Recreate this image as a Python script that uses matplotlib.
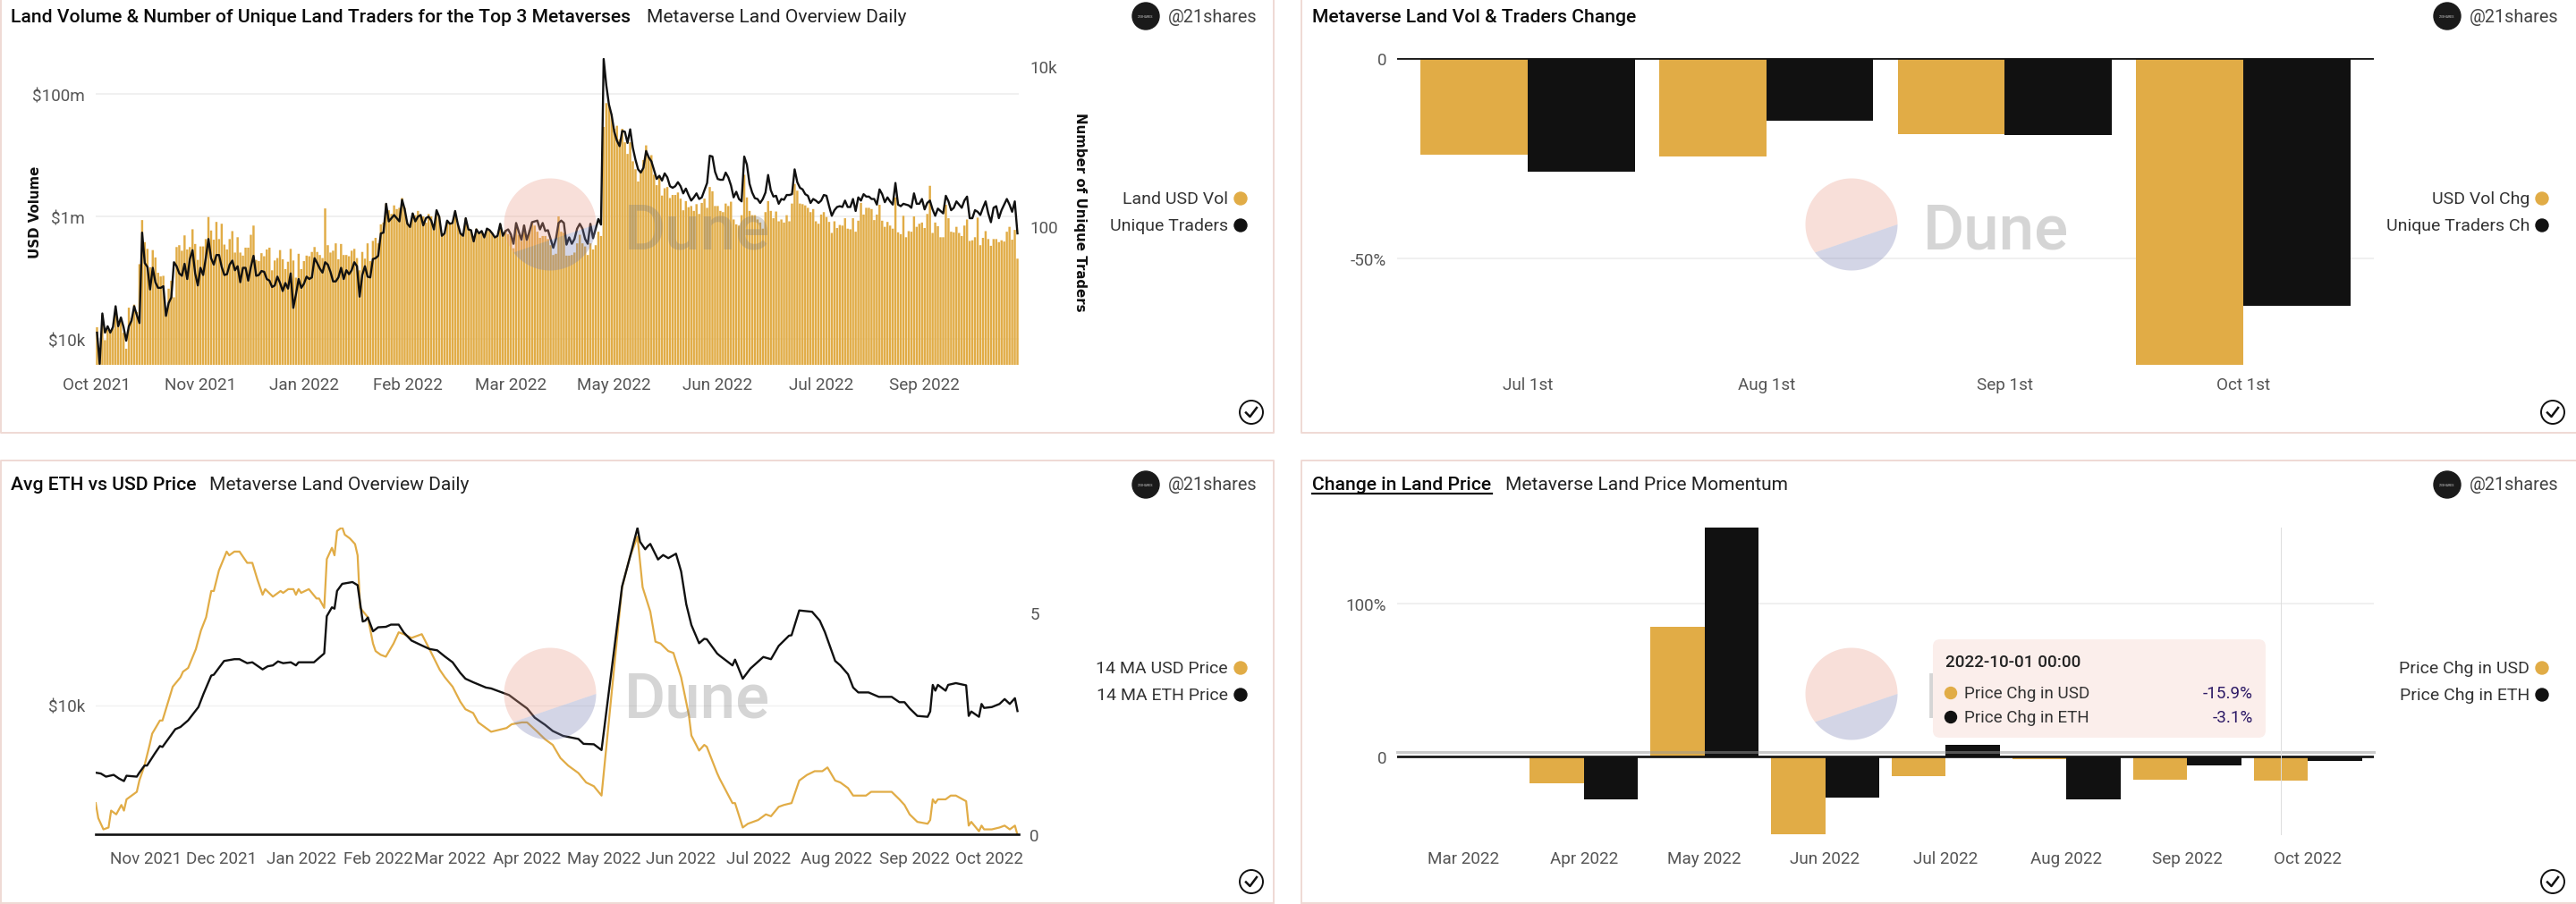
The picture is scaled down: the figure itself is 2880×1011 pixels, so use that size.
#!/usr/bin/env python3
"""Four panel metaverse land dashboard (Dune style), saved as out.png."""
import numpy as np
import matplotlib

matplotlib.use("Agg")
import matplotlib.pyplot as plt
from matplotlib.lines import Line2D
from matplotlib.patches import Circle, FancyBboxPatch, Polygon
from matplotlib.transforms import ScaledTranslation

W, H = 2880, 1012
GOLD = "#e1ac46"
BLACK = "#111111"
TICK = "#555555"
FONT = "Roboto"

# panel 1, daily, log10 of land USD volume
land_vol_log = [
    4.19, 3.85, 4.39, 3.98, 4.15, 4.10, 4.17, 4.44, 4.20, 4.34, 4.10, 3.84, 4.51, 4.34, 4.56, 4.44,
    5.22, 5.94, 5.58, 5.47, 5.17, 5.45, 5.33, 5.08, 5.02, 5.03, 4.49, 4.82, 4.95, 4.68, 5.50, 5.53,
    5.44, 5.69, 5.46, 5.50, 5.79, 5.55, 5.29, 5.51, 5.51, 5.63, 5.99, 5.77, 5.62, 5.91, 5.63, 5.88,
    5.54, 5.46, 5.63, 5.76, 5.41, 5.66, 5.41, 5.36, 5.49, 5.49, 5.70, 5.85, 5.29, 5.27, 5.40, 5.35,
    5.46, 5.49, 5.12, 5.28, 5.32, 5.45, 5.30, 5.14, 5.26, 5.47, 5.28, 5.00, 5.39, 5.14, 5.27, 5.36,
    5.35, 5.42, 5.50, 5.42, 5.37, 5.32, 6.13, 5.53, 5.41, 5.44, 5.56, 5.30, 5.55, 5.37, 5.37, 5.35,
    5.44, 5.47, 5.32, 5.12, 5.42, 5.31, 5.56, 5.27, 5.60, 5.65, 5.56, 5.87, 5.90, 6.21, 6.10, 6.04,
    6.18, 6.12, 6.14, 6.30, 6.14, 5.90, 5.85, 6.05, 6.02, 6.09, 6.00, 6.00, 5.90, 6.04, 6.00, 5.80,
    6.09, 6.00, 5.68, 5.73, 5.92, 5.87, 5.90, 6.07, 5.87, 5.73, 5.68, 5.97, 5.79, 5.78, 5.61, 5.80,
    5.73, 5.76, 5.65, 5.80, 5.78, 5.73, 5.65, 5.68, 5.87, 5.68, 5.78, 5.71, 5.68, 5.48, 5.87, 5.70,
    5.60, 5.85, 5.65, 5.78, 5.90, 5.85, 5.75, 5.65, 5.68, 5.68, 5.63, 5.53, 5.37, 5.39, 6.00, 5.75,
    5.73, 5.36, 5.36, 5.37, 5.41, 5.56, 5.70, 5.56, 5.51, 5.37, 5.56, 5.46, 5.53, 5.75, 5.68, 7.46,
    7.85, 7.82, 7.67, 7.43, 7.48, 7.26, 7.43, 7.21, 7.02, 7.21, 6.90, 6.77, 6.57, 6.73, 6.92, 7.16,
    6.97, 7.00, 6.68, 6.51, 6.63, 6.34, 6.46, 6.48, 6.30, 6.35, 6.35, 6.39, 6.29, 6.10, 6.25, 6.15,
    6.17, 6.09, 6.20, 6.04, 6.22, 6.29, 6.14, 6.48, 6.41, 6.17, 6.17, 6.09, 6.07, 6.21, 6.17, 6.24,
    5.95, 5.87, 5.85, 6.02, 6.68, 6.31, 6.09, 6.02, 6.02, 5.95, 5.90, 5.80, 6.07, 6.25, 6.09, 5.97,
    6.08, 5.92, 5.95, 5.90, 6.02, 5.92, 6.21, 6.53, 6.42, 6.21, 6.20, 6.18, 6.14, 6.07, 6.12, 5.92,
    5.88, 6.03, 6.07, 5.99, 5.91, 5.73, 5.92, 5.81, 5.86, 5.85, 5.97, 5.80, 5.79, 5.97, 5.75, 5.93,
    6.22, 6.03, 6.14, 6.14, 6.12, 5.94, 6.03, 6.19, 5.93, 5.83, 5.91, 5.85, 5.80, 6.31, 5.74, 5.71,
    6.01, 5.66, 5.76, 5.75, 6.00, 5.83, 5.88, 5.90, 5.81, 6.04, 6.50, 5.73, 5.90, 5.84, 5.66, 5.66,
    6.19, 5.97, 5.75, 5.74, 5.83, 5.73, 5.68, 5.85, 5.95, 5.60, 5.61, 5.66, 5.98, 5.53, 5.65, 5.76,
    5.63, 5.52, 5.63, 5.63, 5.58, 5.61, 5.59, 5.75, 5.83, 5.62, 5.78, 5.31,
]
# panel 1, daily, log10 of unique traders
traders_log = [
    0.67, 0.28, 0.91, 0.67, 0.75, 0.67, 0.74, 1.00, 0.75, 0.86, 0.74, 0.57, 0.75, 0.82, 1.00, 0.89,
    0.79, 1.92, 1.54, 1.49, 1.21, 1.48, 1.30, 1.23, 1.23, 1.25, 0.88, 1.04, 1.11, 1.55, 1.50, 1.41,
    1.38, 1.53, 1.34, 1.59, 1.70, 1.41, 1.26, 1.48, 1.39, 1.60, 1.84, 1.60, 1.52, 1.64, 1.64, 1.49,
    1.39, 1.40, 1.52, 1.57, 1.45, 1.50, 1.30, 1.48, 1.48, 1.32, 1.49, 1.63, 1.38, 1.39, 1.44, 1.43,
    1.34, 1.32, 1.24, 1.26, 1.37, 1.29, 1.19, 1.29, 1.22, 1.41, 0.98, 1.15, 1.34, 1.23, 1.28, 1.37,
    1.34, 1.36, 1.60, 1.54, 1.47, 1.42, 1.55, 1.52, 1.43, 1.31, 1.31, 1.36, 1.48, 1.34, 1.45, 1.40,
    1.45, 1.55, 1.50, 1.12, 1.39, 1.50, 1.37, 1.36, 1.59, 1.60, 1.63, 1.91, 1.92, 2.28, 2.06, 2.10,
    2.14, 2.10, 2.06, 2.33, 2.21, 2.03, 1.99, 2.16, 2.06, 2.12, 2.14, 2.01, 2.10, 2.12, 2.07, 1.96,
    2.20, 2.12, 1.88, 1.91, 2.07, 2.03, 2.04, 2.19, 2.03, 1.91, 1.88, 2.10, 1.96, 1.95, 1.81, 1.96,
    1.91, 1.94, 1.86, 1.97, 1.95, 1.91, 1.86, 1.88, 2.03, 1.88, 1.94, 1.96, 1.90, 1.78, 2.04, 1.93,
    1.83, 2.01, 1.83, 1.93, 2.05, 2.06, 2.07, 1.96, 2.04, 1.94, 1.95, 1.84, 1.73, 1.84, 2.04, 2.07,
    2.04, 1.77, 1.86, 1.78, 1.84, 1.97, 2.03, 1.97, 1.84, 1.78, 2.03, 1.85, 1.97, 2.09, 2.02, 4.09,
    3.76, 3.52, 3.39, 3.18, 3.07, 3.00, 3.19, 3.18, 3.04, 3.21, 2.98, 2.83, 2.71, 2.67, 2.73, 2.94,
    2.86, 2.81, 2.70, 2.59, 2.63, 2.57, 2.66, 2.61, 2.50, 2.48, 2.50, 2.55, 2.50, 2.41, 2.47, 2.39,
    2.32, 2.36, 2.41, 2.34, 2.36, 2.45, 2.54, 2.88, 2.87, 2.68, 2.59, 2.58, 2.58, 2.67, 2.61, 2.51,
    2.36, 2.43, 2.34, 2.31, 2.87, 2.77, 2.53, 2.42, 2.35, 2.34, 2.29, 2.34, 2.42, 2.64, 2.45, 2.37,
    2.38, 2.28, 2.34, 2.33, 2.39, 2.39, 2.40, 2.71, 2.55, 2.48, 2.46, 2.40, 2.38, 2.29, 2.34, 2.32,
    2.29, 2.32, 2.39, 2.38, 2.25, 2.13, 2.20, 2.24, 2.25, 2.24, 2.32, 2.24, 2.24, 2.34, 2.19, 2.36,
    2.32, 2.40, 2.37, 2.37, 2.34, 2.34, 2.27, 2.46, 2.40, 2.30, 2.36, 2.31, 2.27, 2.54, 2.27, 2.25,
    2.28, 2.27, 2.26, 2.23, 2.41, 2.28, 2.28, 2.34, 2.21, 2.29, 2.32, 2.21, 2.13, 2.22, 2.19, 2.16,
    2.38, 2.31, 2.20, 2.23, 2.31, 2.27, 2.23, 2.32, 2.37, 2.10, 2.10, 2.20, 2.18, 2.14, 2.23, 2.31,
    2.16, 2.05, 2.23, 2.25, 2.10, 2.20, 2.27, 2.34, 2.27, 2.18, 2.31, 1.91,
]
vol_tick_days = [0, 39, 78, 117, 156, 195, 234, 273, 312]
vol_tick_labels = ["Oct 2021", "Nov 2021", "Jan 2022", "Feb 2022", "Mar 2022",
                   "May 2022", "Jun 2022", "Jul 2022", "Sep 2022"]

# panel 2
change_months = ["Jul 1st", "Aug 1st", "Sep 1st", "Oct 1st"]
usd_vol_chg = [-24.1, -24.5, -18.9, -76.4]
traders_chg = [-28.2, -15.7, -19.1, -61.7]

# panel 3, days since the first point, log10 of USD price
usd_days = [
    0, 1, 3, 5, 6, 8, 10, 11, 12, 14, 16, 17, 19, 21, 22, 25, 26, 28, 30, 33, 34, 36, 39, 41, 43,
    45, 46, 48, 51, 52, 54, 56, 59, 61, 63, 65, 66, 69, 72, 73, 75, 77, 78, 79, 80, 83, 86, 87, 89,
    90, 92, 93, 94, 96, 97, 99, 101, 102, 103, 106, 108, 109, 111, 113, 116, 118, 120, 123, 127,
    130, 134, 136, 139, 142, 144, 147, 149, 152, 154, 160, 162, 166, 168, 172, 175, 178, 181, 184,
    188, 191, 194, 197, 205, 208, 211, 213, 216, 218, 220, 223, 225, 228, 231, 232, 235, 237, 238,
    242, 243, 248, 249, 252, 254, 258, 261, 263, 266, 268, 271, 274, 277, 280, 283, 285, 288, 290,
    293, 295, 297, 300, 302, 306, 310, 313, 315, 317, 320, 324, 325, 326, 327, 328, 331, 333, 335,
    339, 340, 341, 344, 345, 346, 349, 352, 354, 356, 358, 359,
]
usd_price_log = [
    3.48, 3.40, 3.34, 3.35, 3.44, 3.42, 3.47, 3.44, 3.50, 3.52, 3.54, 3.60, 3.68, 3.79, 3.85, 3.92,
    3.92, 4.01, 4.10, 4.15, 4.18, 4.20, 4.30, 4.40, 4.47, 4.61, 4.61, 4.72, 4.82, 4.80, 4.82, 4.82,
    4.76, 4.76, 4.67, 4.59, 4.62, 4.58, 4.61, 4.60, 4.62, 4.62, 4.59, 4.62, 4.60, 4.62, 4.57, 4.57,
    4.52, 4.78, 4.84, 4.80, 4.93, 4.95, 4.91, 4.89, 4.86, 4.80, 4.52, 4.47, 4.33, 4.29, 4.27, 4.26,
    4.33, 4.39, 4.38, 4.36, 4.38, 4.30, 4.19, 4.15, 4.10, 4.02, 3.98, 3.96, 3.91, 3.88, 3.86, 3.88,
    3.90, 3.91, 3.91, 3.86, 3.82, 3.79, 3.72, 3.68, 3.64, 3.59, 3.57, 3.52, 4.63, 4.79, 4.90, 4.63,
    4.50, 4.34, 4.33, 4.29, 4.28, 4.15, 3.95, 3.84, 3.76, 3.79, 3.78, 3.64, 3.61, 3.48, 3.48, 3.35,
    3.37, 3.39, 3.42, 3.41, 3.46, 3.47, 3.48, 3.60, 3.63, 3.65, 3.65, 3.67, 3.60, 3.59, 3.56, 3.52,
    3.52, 3.52, 3.54, 3.54, 3.54, 3.50, 3.47, 3.42, 3.38, 3.37, 3.39, 3.50, 3.48, 3.50, 3.50, 3.52,
    3.52, 3.49, 3.36, 3.38, 3.33, 3.36, 3.34, 3.34, 3.35, 3.36, 3.34, 3.36, 3.31,
]
eth_days = [
    0, 2, 4, 7, 9, 11, 12, 16, 17, 19, 20, 23, 25, 26, 31, 33, 36, 40, 42, 45, 46, 50, 54, 56, 59,
    61, 65, 67, 69, 71, 73, 76, 78, 79, 85, 89, 90, 92, 93, 94, 96, 100, 102, 104, 105, 106, 108,
    110, 113, 115, 118, 120, 123, 127, 130, 133, 136, 139, 142, 144, 147, 152, 154, 161, 164, 168,
    171, 175, 178, 182, 188, 190, 194, 197, 205, 208, 211, 212, 214, 215, 216, 219, 221, 223, 226,
    228, 230, 232, 235, 237, 238, 242, 243, 248, 249, 252, 255, 260, 263, 266, 270, 271, 274, 279,
    282, 284, 288, 290, 293, 295, 297, 301, 305, 310, 313, 315, 317, 320, 324, 325, 326, 327, 328,
    331, 332, 335, 339, 340, 341, 344, 345, 346, 349, 352, 354, 356, 358, 359,
]
eth_price = [
    1.39, 1.37, 1.30, 1.34, 1.26, 1.20, 1.32, 1.30, 1.39, 1.55, 1.55, 1.82, 1.99, 1.97, 2.37, 2.42,
    2.57, 2.87, 3.17, 3.58, 3.60, 3.91, 3.95, 3.95, 3.86, 3.88, 3.72, 3.79, 3.81, 3.90, 3.86, 3.88,
    3.81, 3.88, 3.88, 4.08, 4.92, 5.12, 5.09, 5.49, 5.65, 5.69, 5.62, 4.80, 4.82, 4.89, 4.58, 4.67,
    4.68, 4.73, 4.73, 4.55, 4.37, 4.26, 4.18, 4.15, 4.01, 3.88, 3.64, 3.51, 3.43, 3.31, 3.29, 3.14,
    3.01, 2.84, 2.63, 2.47, 2.33, 2.22, 2.15, 2.04, 2.03, 1.90, 5.59, 6.24, 6.91, 6.60, 6.43, 6.50,
    6.55, 6.20, 6.30, 6.23, 6.33, 5.93, 5.19, 4.72, 4.31, 4.41, 4.40, 4.08, 4.03, 3.81, 3.94, 3.51,
    3.74, 4.00, 3.95, 4.25, 4.48, 4.49, 5.05, 5.02, 4.82, 4.56, 3.91, 3.81, 3.61, 3.31, 3.20, 3.20,
    3.10, 3.10, 2.98, 2.98, 2.84, 2.67, 2.65, 2.77, 3.37, 3.24, 3.37, 3.24, 3.37, 3.41, 3.36, 2.67,
    2.77, 2.65, 2.94, 2.85, 2.87, 2.94, 3.05, 2.94, 3.07, 2.78,
]
price_tick_days = [19.5, 49, 80, 110, 138, 168, 198, 228, 258, 288.5, 319, 348]
price_tick_labels = ["Nov 2021", "Dec 2021", "Jan 2022", "Feb 2022", "Mar 2022", "Apr 2022",
                     "May 2022", "Jun 2022", "Jul 2022", "Aug 2022", "Sep 2022", "Oct 2022"]

# panel 4
price_months = ["Mar 2022", "Apr 2022", "May 2022", "Jun 2022",
                "Jul 2022", "Aug 2022", "Sep 2022", "Oct 2022"]
price_chg_usd = [0, -17.3, 84.8, -50.9, -12.9, -1.8, -15.0, -15.9]
price_chg_eth = [0, -28.1, 149.7, -26.7, 7.6, -28.1, -5.8, -3.1]


def px_axes(fig, left, top, right, bottom):
    return fig.add_axes([left / W, 1 - bottom / H, (right - left) / W, (bottom - top) / H])


def style_axes(ax, lift=2.5):
    for side in ax.spines:
        ax.spines[side].set_visible(False)
    ax.tick_params(length=0, labelsize=13.6, labelcolor=TICK, pad=0)
    for lbl in ax.get_yticklabels():
        lbl.set_transform(lbl.get_transform() + ScaledTranslation(0, lift / 72, ax.figure.dpi_scale_trans))
    ax.set_axisbelow(True)


def grouped_bars(ax, first, second, labels):
    x = np.arange(len(labels))
    ax.bar(x - 0.2245, first, width=0.449, color=GOLD, zorder=2)
    ax.bar(x + 0.2245, second, width=0.449, color=BLACK, zorder=2)
    ax.axhline(0, color=BLACK, lw=1.9, zorder=3)
    ax.set_xticks(x, labels)
    ax.grid(axis="y", color="#eeeeee", lw=1.2)
    ax.set_xlim(-0.548, len(labels) - 1 + 0.548)


def header(ov, x, y, title, sub=None, sub_x=None, avatar_x=1281):
    ov.text(x, y, title, fontsize=15.2, fontweight="medium", color="#0c0c0c", va="center")
    if sub:
        ov.text(sub_x, y, sub, fontsize=15.1, color="#222222", va="center")
    ov.add_patch(Circle((avatar_x, y), 15, color="#1a1a1a", zorder=5))
    ov.text(avatar_x, y, "21SHARES", fontsize=2.6, color="#cccccc", ha="center", va="center", zorder=6)
    ov.text(avatar_x + 25, y, "@21shares", fontsize=14.3, color="#444444", va="center")


def legend(ov, dot_x, y1, names):
    for name, color, y in zip(names, (GOLD, BLACK), (y1, y1 + 30)):
        ov.add_patch(Circle((dot_x, y), 7, color=color))
        ov.text(dot_x - 14, y, name, fontsize=14, color="#333333", ha="right", va="center")


def check(ov, x, y):
    ov.add_patch(Circle((x, y), 13, fill=False, ec="#111111", lw=1.4))
    ov.add_line(Line2D([x - 6, x - 1.5, x + 6], [y + 0.5, y + 5, y - 5], color="#111111", lw=1.8))


def watermark(ov, cx, cy, text_x):
    # disc split by a chord, translucent so that bars and lines show through
    r = 51.5
    a = np.radians(np.linspace(0, 142.4, 60))
    b = np.radians(np.linspace(142.4, 360, 120))
    ov.add_patch(Polygon(np.c_[cx + r * np.cos(b), cy + r * np.sin(b)], closed=True,
                         fc=(234 / 255, 156 / 255, 137 / 255), alpha=0.32, lw=0, zorder=3))
    ov.add_patch(Polygon(np.c_[cx + r * np.cos(a), cy + r * np.sin(a)], closed=True,
                         fc=(121 / 255, 127 / 255, 178 / 255), alpha=0.32, lw=0, zorder=3))
    ov.text(text_x, cy + 26, "Dune", fontsize=51, fontweight="medium", color="#7d7d7d",
            alpha=0.32, va="baseline", zorder=3)


def main():
    plt.rcParams["font.family"] = [FONT, "DejaVu Sans"]
    fig = plt.figure(figsize=(W / 100, H / 100), dpi=100, facecolor="white")

    # panel 1
    ax = px_axes(fig, 107, 66, 1139, 409)
    days = np.arange(len(land_vol_log))
    ax.bar(days, 10 ** np.array(land_vol_log), width=0.82, bottom=1, color=GOLD, snap=False, lw=0, zorder=2)
    ax.set_yscale("log")
    ax.set_ylim(10 ** 3.577, 10 ** 8.584)
    ax.set_xlim(-0.5, len(days) - 0.5)
    ax.set_xticks(vol_tick_days, vol_tick_labels)
    ax.set_yticks([1e4, 1e6, 1e8], ["$10k", "$1m", "$100m"])
    ax.minorticks_off()
    ax.grid(axis="y", color="#eeeeee", lw=1.2)
    style_axes(ax)
    ax.tick_params(axis="x", pad=9)
    ax.tick_params(axis="y", pad=8.6)
    ax2 = ax.twinx()
    ax2.plot(days, 10 ** np.array(traders_log), color=BLACK, lw=1.7)
    ax2.set_yscale("log")
    ax2.set_ylim(10 ** 0.268, 10 ** 4.10)
    ax2.set_yticks([1e2, 1e4], ["100", "10k"])
    ax2.minorticks_off()
    style_axes(ax2, lift=0)
    ax2.tick_params(axis="y", pad=9)

    # panel 2
    ax = px_axes(fig, 1562, 66, 2654, 409)
    grouped_bars(ax, usd_vol_chg, traders_chg, change_months)
    ax.set_ylim(-76.4, 0)
    ax.set_yticks([-50, 0], ["-50%", "0"])
    style_axes(ax)
    ax.tick_params(axis="x", pad=9)
    ax.tick_params(axis="y", pad=8.6)

    # panel 3
    ax = px_axes(fig, 107, 591, 1139, 934)
    ax.plot(usd_days, 10 ** np.array(usd_price_log), color=GOLD, lw=1.6, zorder=2)
    ax.set_yscale("log")
    ax.set_ylim(10 ** 3.314, 10 ** 4.948)
    ax.set_xlim(0, 359.5)
    ax.set_xticks(price_tick_days, price_tick_labels)
    ax.set_yticks([1e4], ["$10k"])
    ax.minorticks_off()
    ax.grid(axis="y", color="#f1f1f1", lw=1.0)
    style_axes(ax)
    ax.tick_params(axis="x", pad=13)
    ax.tick_params(axis="y", pad=8.6)
    ax2 = ax.twinx()
    ax2.plot(eth_days, eth_price, color=BLACK, lw=1.7, zorder=3)
    ax2.axhline(0, color=BLACK, lw=1.9, clip_on=False)
    ax2.set_ylim(0, 6.92)
    ax2.set_yticks([0, 5], ["0", "5"])
    style_axes(ax2, lift=1.5)
    ax2.tick_params(axis="y", pad=9)

    # panel 4
    ax = px_axes(fig, 1562, 591, 2654, 934)
    grouped_bars(ax, price_chg_usd, price_chg_eth, price_months)
    ax.set_ylim(-50.9, 149.7)
    ax.set_yticks([0, 100], ["0", "100%"])
    style_axes(ax)
    ax.tick_params(axis="x", pad=13)
    ax.tick_params(axis="y", pad=8.6)

    # page furniture in pixel coordinates on top of the charts
    ov = fig.add_axes([0, 0, 1, 1], zorder=10)
    ov.set_xlim(0, W)
    ov.set_ylim(H, 0)
    ov.axis("off")
    edge = "#efd9d4"
    for xs, ys in (([1, 1, 1424, 1424], [0, 485, 485, 0]),
                   ([1455, 1455, 2880], [0, 485, 485]),
                   ([1, 1, 1424, 1424], [1011, 516, 516, 1011]),
                   ([1455, 1455, 2880], [1011, 516, 516]),
                   ([1, 1424], [1011, 1011]), ([1455, 2880], [1011, 1011])):
        ov.add_line(Line2D(xs, ys, color=edge, lw=1.4, zorder=1))

    header(ov, 12, 19, "Land Volume & Number of Unique Land Traders for the Top 3 Metaverses",
           "Metaverse Land Overview Daily", 723)
    header(ov, 1467, 19, "Metaverse Land Vol & Traders Change", avatar_x=2736)
    header(ov, 12, 543, "Avg ETH vs USD Price", "Metaverse Land Overview Daily", 234)
    header(ov, 1467, 543, "Change in Land Price", "Metaverse Land Price Momentum", 1683, avatar_x=2736)
    ov.add_line(Line2D([1467, 1668], [553, 553], color="#111111", lw=1.6))

    legend(ov, 1387, 223, ("Land USD Vol", "Unique Traders"))
    legend(ov, 2842, 223, ("USD Vol Chg", "Unique Traders Ch"))
    legend(ov, 1387, 748, ("14 MA USD Price", "14 MA ETH Price"))
    legend(ov, 2842, 748, ("Price Chg in USD", "Price Chg in ETH"))
    for cx, cy in ((1399, 462), (2854, 462), (1399, 987), (2854, 987)):
        check(ov, cx, cy)

    ov.text(40, 237, "USD Volume", rotation=90, family="DejaVu Sans", fontsize=10.8,
            fontweight="bold", color="#111111", ha="center", va="center")
    ov.text(1207, 237, "Number of Unique Traders", rotation=270, family="DejaVu Sans", fontsize=10.8,
            fontweight="bold", color="#111111", ha="center", va="center")

    watermark(ov, 615, 252, 698)
    watermark(ov, 2070, 252, 2150)
    watermark(ov, 615, 777, 698)
    watermark(ov, 2070, 777, 2152)

    # hover pointer and tooltip of panel 4
    ov.add_line(Line2D([1562, 2654], [842, 842], color="#999999", alpha=0.5, lw=2.2, zorder=4))
    ov.add_line(Line2D([2550, 2550], [591, 934], color="#dddddd", lw=0.7, zorder=4))
    ov.add_patch(FancyBboxPatch((2166, 721), 362, 100, boxstyle="round,pad=5,rounding_size=8",
                                fc="#fbeeeb", ec="none", zorder=5))
    ov.text(2175, 741, "2022-10-01 00:00", fontsize=13.6, fontweight="medium", color="#222222", va="center", zorder=6)
    for name, val, color, y in (("Price Chg in USD", "-15.9%", GOLD, 776), ("Price Chg in ETH", "-3.1%", BLACK, 803)):
        ov.add_patch(Circle((2181, y), 6.5, color=color, zorder=6))
        ov.text(2196, y, name, fontsize=13.6, color="#333333", va="center", zorder=6)
        ov.text(2519, y, val, fontsize=13.6, color="#2d1a66", ha="right", va="center", zorder=6)

    fig.savefig("out.png", dpi=100, facecolor="white")


if __name__ == "__main__":
    main()
